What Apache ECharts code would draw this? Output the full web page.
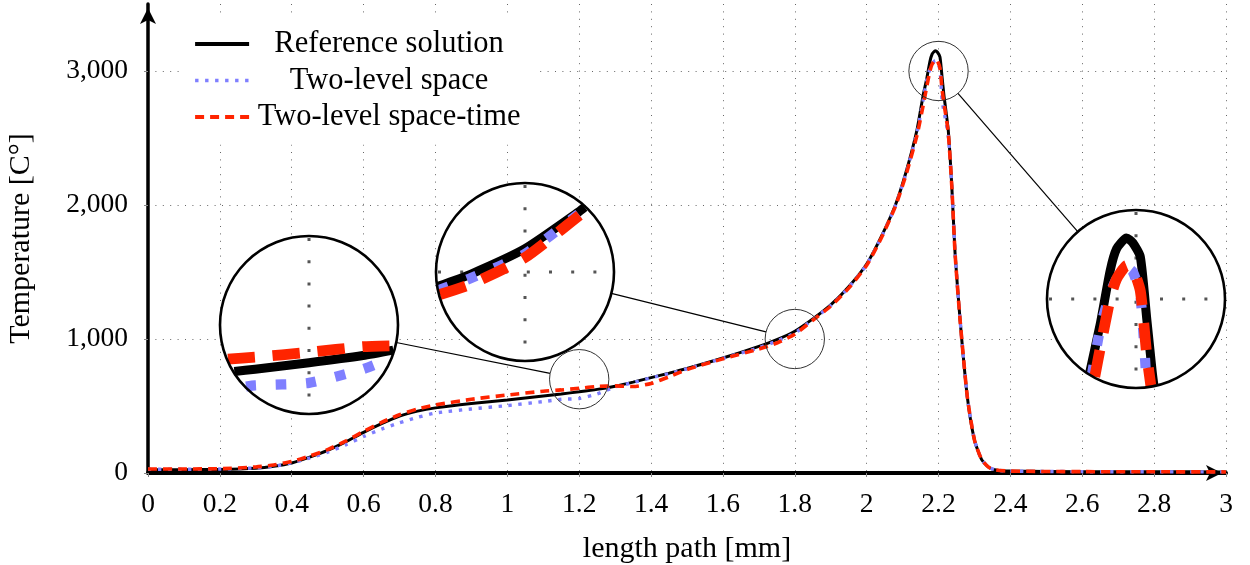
<!DOCTYPE html>
<html>
<head>
<meta charset="utf-8">
<title>Temperature along the length path</title>
<script src="https://cdn.jsdelivr.net/npm/echarts@6/dist/echarts.min.js"></script>
<style>
  html, body { margin: 0; padding: 0; background: #fff; }
  #chart { width: 1250px; height: 565px; }
</style>
</head>
<body>
<div id="chart"></div>
<script>
// length path [mm]
const pathX = [0, 0.1, 0.2, 0.3, 0.35, 0.4, 0.45, 0.5, 0.55, 0.6,
  0.65, 0.7, 0.75, 0.8, 0.9, 1.0, 1.1, 1.15, 1.2, 1.25,
  1.3, 1.35, 1.4, 1.45, 1.5, 1.6, 1.7, 1.75, 1.8, 1.85,
  1.9, 1.95, 2.0, 2.04, 2.08, 2.11, 2.14, 2.157, 2.167, 2.176,
  2.182, 2.191, 2.197, 2.204, 2.21, 2.215, 2.227, 2.237, 2.246, 2.26,
  2.28, 2.3, 2.32, 2.34, 2.36, 2.4, 2.6, 2.8, 3.0]
// Reference solution
const refTemp = [25, 25, 27, 36, 50, 75, 118, 168, 232, 303,
  368, 425, 462, 486, 518, 545, 575, 590, 606, 624,
  648, 678, 712, 745, 780, 858, 945, 995, 1058, 1150,
  1255, 1390, 1560, 1760, 2000, 2250, 2560, 2816, 2940, 3070,
  3125, 3152, 3140, 3105, 2950, 2820, 2560, 2135, 1640, 1140,
  570, 245, 100, 42, 22, 14, 10, 9, 8]
// Two-level space
const spaceTemp = [28, 28, 30, 38, 50, 76, 112, 155, 210, 272,
  328, 375, 415, 448, 478, 503, 533, 550, 556, 590,
  642, 675, 710, 742, 778, 856, 935, 985, 1045, 1145,
  1250, 1385, 1555, 1755, 1995, 2240, 2540, 2780, 2930, 3014,
  3050, 3078, 3068, 3010, 2780, 2700, 2520, 2135, 1640, 1140,
  570, 245, 100, 42, 22, 14, 10, 9, 8]
// Two-level space-time
const spaceTimeTemp = [30, 30, 32, 45, 60, 86, 126, 175, 238, 310,
  378, 435, 478, 508, 550, 582, 610, 620, 632, 646,
  650, 645, 668, 718, 772, 852, 925, 970, 1036, 1140,
  1245, 1380, 1550, 1750, 1990, 2230, 2520, 2740, 2880, 3000,
  3050, 3083, 3075, 3020, 2860, 2760, 2540, 2135, 1640, 1140,
  570, 245, 100, 42, 22, 14, 10, 9, 8]

const seriesNames = ['Reference solution', 'Two-level space', 'Two-level space-time']
const seriesTemps = [refTemp, spaceTemp, spaceTimeTemp]
// regions that are magnified (x, temperature)
const spyPoints = [[1.2, 700], [1.8, 1000], [2.2, 3000]]
const yGridValues = [1000, 2000, 3000]

// layout of the magnifier circles (pixels)
const insetCenters = [[309, 325], [525, 272], [1136, 299]]
const insetRadius = 89
const spyZoom = 3

const FONT = 'Liberation Serif'
const lineStyles = [
  { color: '#000000', width: 3, type: 'solid' },
  { color: '#7f7fff', width: 3.4, type: [3.4, 6.6] },
  { color: '#ff2400', width: 3.6, type: [9, 6] }
]
const legendWidths = [4.2, 3.6, 4]

// cut a polyline to the part inside a circle
function clipToCircle (pts, cx, cy, R) {
  const runs = []
  let cur = null
  for (let k = 0; k < pts.length - 1; k++) {
    const A = pts[k]
    const B = pts[k + 1]
    const dx = B[0] - A[0]
    const dy = B[1] - A[1]
    const fx = A[0] - cx
    const fy = A[1] - cy
    const a = dx * dx + dy * dy
    if (a === 0) continue
    const b = 2 * (fx * dx + fy * dy)
    const c = fx * fx + fy * fy - R * R
    const disc = b * b - 4 * a * c
    if (disc <= 0) { cur = null; continue }
    const sq = Math.sqrt(disc)
    const t1 = Math.max(0, (-b - sq) / (2 * a))
    const t2 = Math.min(1, (-b + sq) / (2 * a))
    if (t1 >= t2) { cur = null; continue }
    const P1 = [A[0] + t1 * dx, A[1] + t1 * dy]
    const P2 = [A[0] + t2 * dx, A[1] + t2 * dy]
    if (!cur || t1 > 0) { cur = [P1]; runs.push(cur) }
    cur.push(P2)
    if (t2 < 1) cur = null
  }
  return runs
}

function renderSpy (params, api) {
  const i = params.dataIndex
  const s = api.coord([api.value(0), api.value(1)])
  const c = insetCenters[i]
  const R = insetRadius
  const r = R / spyZoom
  const toInset = (q) => [c[0] + spyZoom * (q[0] - s[0]), c[1] + spyZoom * (q[1] - s[1])]
  const children = []

  // connection line between the two circles
  const len = Math.hypot(s[0] - c[0], s[1] - c[1])
  const ux = (s[0] - c[0]) / len
  const uy = (s[1] - c[1]) / len
  children.push({
    type: 'line',
    shape: { x1: c[0] + ux * R, y1: c[1] + uy * R, x2: s[0] - ux * r, y2: s[1] - uy * r },
    style: { stroke: '#000', lineWidth: 1.2 }
  })
  // small circle on the curve
  children.push({
    type: 'circle',
    shape: { cx: s[0], cy: s[1], r: r },
    style: { fill: 'none', stroke: '#333', lineWidth: 1 }
  })
  // white disc of the magnifier
  children.push({
    type: 'circle',
    shape: { cx: c[0], cy: c[1], r: R },
    style: { fill: '#fff', stroke: 'none' }
  })
  // magnified grid lines
  const gridStyle = { stroke: '#555', lineWidth: 3, lineDash: [3, 19.2], fill: 'none' }
  for (let k = 1; k <= 15; k++) {
    const X = toInset(api.coord([k * 0.2, 0]))[0]
    const d = X - c[0]
    if (Math.abs(d) < R - 2) {
      const h = Math.sqrt(R * R - d * d) - 2
      children.push({ type: 'line', shape: { x1: X, y1: c[1] - h, x2: X, y2: c[1] + h }, style: gridStyle })
    }
  }
  yGridValues.forEach((v) => {
    const Y = toInset(api.coord([0, v]))[1]
    const d = Y - c[1]
    if (Math.abs(d) < R - 2) {
      const w = Math.sqrt(R * R - d * d) - 2
      children.push({ type: 'line', shape: { x1: c[0] - w, y1: Y, x2: c[0] + w, y2: Y }, style: gridStyle })
    }
  })
  // magnified curves
  seriesTemps.forEach((temps, j) => {
    const pts = pathX.map((x, n) => toInset(api.coord([x, temps[n]])))
    const st = lineStyles[j]
    clipToCircle(pts, c[0], c[1], R - 1).forEach((run) => {
      children.push({
        type: 'polyline',
        shape: { points: run, smooth: 0.2 },
        style: {
          stroke: st.color,
          lineWidth: st.width * spyZoom,
          lineDash: Array.isArray(st.type) ? st.type.map(v => v * spyZoom) : null,
          fill: 'none',
          lineCap: 'butt'
        }
      })
    })
  })
  // circle outline
  children.push({
    type: 'circle',
    shape: { cx: c[0], cy: c[1], r: R },
    style: { fill: 'none', stroke: '#000', lineWidth: 2.6 }
  })
  return { type: 'group', children: children }
}

const chart = echarts.init(document.getElementById('chart'))

const splitStyle = { show: true, lineStyle: { color: '#666', width: 1, type: [1, 6.4] } }

const option = {
  backgroundColor: '#fff',
  animation: false,
  grid: { left: 148, right: 24, top: 4, bottom: 92, containLabel: false, outerBoundsMode: 'none' },
  legend: {
    data: seriesNames.map((name, j) => ({
      name: name,
      lineStyle: { width: legendWidths[j] }
    })),
    orient: 'vertical',
    left: 183,
    top: 16.5,
    padding: [12, 10, 12, 10],
    backgroundColor: '#fff',
    itemWidth: 54,
    itemHeight: 14,
    itemGap: 5.5,
    itemStyle: { opacity: 0 },
    formatter: (name) => '{t|' + name + '}',
    textStyle: {
      rich: {
        t: { width: 270, align: 'center', fontFamily: FONT, fontSize: 30.5, lineHeight: 31, color: '#000' }
      }
    }
  },
  xAxis: {
    type: 'value',
    min: 0,
    max: 3,
    interval: 0.2,
    name: 'length path [mm]',
    nameLocation: 'middle',
    nameGap: 61,
    nameTextStyle: { fontFamily: FONT, fontSize: 30, color: '#000' },
    axisLine: {
      show: true,
      onZero: false,
      symbol: ['none', 'arrow'],
      symbolSize: [12, 16],
      symbolOffset: [0, -4],
      lineStyle: { color: '#000', width: 4 }
    },
    axisTick: { show: true, length: 4, lineStyle: { color: '#888', width: 1 } },
    axisLabel: {
      fontFamily: FONT,
      fontSize: 27.5,
      color: '#000',
      margin: 18,
      formatter: (v) => String(Math.round(v * 10) / 10)
    },
    splitLine: splitStyle
  },
  yAxis: {
    type: 'value',
    min: 0,
    max: 3500,
    interval: 1000,
    name: 'Temperature [C°]',
    nameLocation: 'middle',
    nameGap: 112,
    nameTextStyle: { fontFamily: FONT, fontSize: 30, color: '#000' },
    axisLine: {
      show: true,
      onZero: false,
      symbol: ['none', 'arrow'],
      symbolSize: [12, 16],
      symbolOffset: [0, -4],
      lineStyle: { color: '#000', width: 3.5 }
    },
    axisTick: { show: true, length: 4, lineStyle: { color: '#888', width: 1 } },
    axisLabel: {
      fontFamily: FONT,
      fontSize: 27.5,
      color: '#000',
      margin: 20,
      showMaxLabel: false,
      formatter: (v) => v.toLocaleString('en-US')
    },
    splitLine: Object.assign({ showMaxLine: false }, splitStyle)
  },
  series: seriesNames.map((name, j) => ({
    name: name,
    type: 'line',
    data: pathX.map((x, n) => [x, seriesTemps[j][n]]),
    showSymbol: false,
    symbol: 'none',
    smooth: 0.2,
    z: 3 + j,
    itemStyle: { color: lineStyles[j].color },
    lineStyle: lineStyles[j]
  })).concat([{
    type: 'custom',
    data: spyPoints,
    renderItem: renderSpy,
    z: 10,
    silent: true
  }])
}

chart.setOption(option)
</script>
</body>
</html>
